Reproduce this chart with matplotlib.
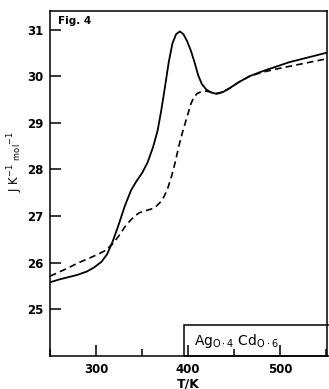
import matplotlib
matplotlib.use("Agg")
import matplotlib.pyplot as plt
from matplotlib.patches import Rectangle
from matplotlib.ticker import MultipleLocator

# heat capacity, solid curve
T_solid = [250, 260, 270, 280, 290, 298, 306, 312, 318, 324, 331, 338, 344,
           350, 356, 362, 367, 371, 375, 379, 383, 387, 391, 395, 399, 403,
           407, 411, 415, 420, 425, 431, 438, 445, 455, 467, 480, 495, 510,
           530, 550]
Cp_solid = [25.58, 25.64, 25.69, 25.74, 25.81, 25.9, 26.02, 26.18, 26.45,
            26.78, 27.2, 27.55, 27.75, 27.92, 28.15, 28.48, 28.84, 29.28,
            29.78, 30.3, 30.7, 30.9, 30.96, 30.9, 30.75, 30.55, 30.3, 30.02,
            29.83, 29.71, 29.65, 29.62, 29.66, 29.74, 29.87, 30.0, 30.1,
            30.2, 30.3, 30.4, 30.5]

# dashed curve
T_dash = [250, 260, 270, 281, 292, 302, 310, 318, 325, 331, 337, 342, 347,
          353, 360, 365, 370, 374, 378, 382, 386, 390, 394, 397, 400, 403,
          406, 410, 415, 420, 425, 431, 438, 445, 455, 467, 480, 495, 510,
          530, 550]
Cp_dash = [25.71, 25.8, 25.89, 26.0, 26.09, 26.18, 26.26, 26.4, 26.58,
           26.76, 26.9, 27.0, 27.07, 27.11, 27.15, 27.2, 27.3, 27.42, 27.6,
           27.85, 28.15, 28.5, 28.8, 29.0, 29.2, 29.4, 29.54, 29.63, 29.67,
           29.68, 29.66, 29.63, 29.66, 29.74, 29.87, 30.0, 30.08, 30.15,
           30.21, 30.29, 30.37]

x_ticks = [300, 400, 500]
y_ticks = [25, 26, 27, 28, 29, 30, 31]

fig = plt.figure(figsize=(3.29, 3.89), dpi=100)
ax = fig.add_axes([0.152, 0.085, 0.842, 0.887])

ax.plot(T_solid, Cp_solid, color="black", lw=1.3)
ax.plot(T_dash, Cp_dash, color="black", lw=1.2, dashes=(4, 2.5))

ax.set_xlim(250, 551)
ax.set_ylim(24, 31.4)
ax.set_xticks(x_ticks)
ax.xaxis.set_minor_locator(MultipleLocator(50))
ax.set_yticks(y_ticks)
ax.tick_params(which="major", direction="in", length=8, width=1.1,
               labelsize=8.5, pad=5)
ax.tick_params(which="minor", direction="in", length=5, width=1.1)
for lab in ax.get_xticklabels() + ax.get_yticklabels():
    lab.set_fontweight("bold")
for s in ax.spines.values():
    s.set_linewidth(1.1)

ax.set_xlabel("T/K", fontsize=9, fontweight="bold", labelpad=1)
fig.text(0.045, 0.585, r"J K$^{-1}$ $_{\mathrm{mol}}$$^{-1}$", fontsize=8.5,
         rotation=90, ha="center", va="center")

ax.text(0.03, 0.985, "Fig. 4", transform=ax.transAxes, fontsize=7.5,
        fontweight="bold", va="top", ha="left")

# composition box at lower right
ax.add_patch(Rectangle((396, 24), 160, 0.67, fill=False, lw=1.1,
                       clip_on=False))
ax.text(406, 24.33, r"Ag$_{\mathrm{O\cdot4}}$ Cd$_{\mathrm{O\cdot6}}$",
        fontsize=10, va="center", ha="left")

fig.savefig("out.png", dpi=100)
